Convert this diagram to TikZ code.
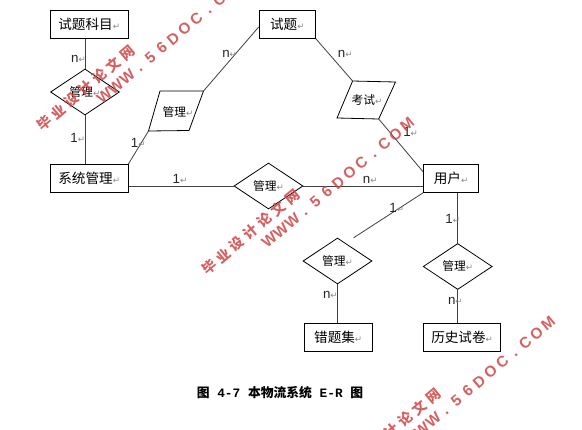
\documentclass[tikz,border=0pt]{standalone}
\usepackage{fontspec}
\usetikzlibrary{shapes.geometric}
\setmainfont{Liberation Sans}
\newfontfamily\cjk{Noto Sans CJK SC}
\newfontfamily\dejavu{DejaVu Sans}
\newfontfamily\capmono{Liberation Mono}
\definecolor{wmred}{RGB}{205,70,70}
\definecolor{retgray}{RGB}{135,135,135}
\newcommand\retmark{{\dejavu\fontsize{6.5}{8}\selectfont\color{retgray}↵}}
\newcommand\capsp{{\capmono\bfseries\ }}
\tikzset{
  ent/.style={draw=black, line width=0.75pt, minimum height=21pt, inner sep=0pt,
    font=\cjk\fontsize{10.2}{12}\selectfont},
  rel/.style={diamond, draw=black, line width=0.6pt, minimum width=51.75pt,
    minimum height=34.5pt, inner sep=0pt, font=\cjk\fontsize{8.8}{10}\selectfont},
  relline/.style={draw=black, line width=0.6pt},
  rtext/.style={inner sep=0pt, font=\cjk\fontsize{8.8}{10}\selectfont},
  conn/.style={draw=black!75, line width=0.6pt},
  card/.style={anchor=west, inner sep=0pt, font=\fontsize{10}{12}\selectfont, text=black!85},
  wmc/.style={rotate=40, inner sep=0pt, text=wmred, opacity=0.85,
    font=\cjk\bfseries\fontsize{10.5}{12}\selectfont},
  wml/.style={rotate=40, anchor=base, inner sep=0pt, text=wmred, opacity=0.85,
    font=\bfseries\fontsize{11.5}{13}\selectfont},
}
\newcommand\wmarkset[3]{%
  \begin{scope}[shift={(#1,#2)}, rotate=40]
    \foreach \c [count=\i from 0] in {毕,业,设,计,论,文,网}
      \node[wmc] (#3c\i) at (\i*18.2,0) {\c};
    \foreach \c [count=\i from 0] in {W,W,W,.,5,6,D,O,C,.,C,O,M}
      \node[wml] (#3l\i) at (63.3+\i*15,23.5) {\c};
  \end{scope}}
\begin{document}
\begin{tikzpicture}[x=0.75pt,y=-0.75pt]
\useasboundingbox (0,0) rectangle (582,429);
\fill[white] (0,0) rectangle (582,429);
\clip (0,0) rectangle (582,429);

% entities
\node[ent, minimum width=58.2pt] (km) at (89.2,24.2) {试题科目\retmark};
\node[ent, minimum width=58.2pt] (xt) at (89.2,178.3) {系统管理\retmark};
\node[ent, minimum width=42pt] (st) at (287.3,24.2) {试题\retmark};
\node[ent, minimum width=41.25pt] (yh) at (451.1,178.3) {用户\retmark};
\node[ent, minimum width=51.3pt] (ct) at (338.2,337.2) {错题集\retmark};
\node[ent, minimum width=57.9pt] (ls) at (462.1,337.2) {历史试卷\retmark};

% relationships (diamonds)
\node[rel] (d1) at (85,92) {管理\retmark};
\node[rel] (d3) at (268.5,186) {管理\retmark};
\node[rel] (d4) at (337.5,261) {管理\retmark};
\node[rel] (d5) at (457.7,266.5) {管理\retmark};

% relationships (parallelograms)
\coordinate (p1tl) at (160,91);
\coordinate (p1tr) at (203.5,91);
\coordinate (p1br) at (189,130.5);
\coordinate (p1bl) at (148.5,131);
\draw[relline] (p1tl) -- (p1tr) -- (p1br) -- (p1bl) -- cycle;
\node[rtext] (p1) at (178,112) {管理\retmark};
\coordinate (p2tl) at (352.6,81);
\coordinate (p2tr) at (395.5,82);
\coordinate (p2br) at (378.7,119);
\coordinate (p2bl) at (337,118);
\draw[relline] (p2tl) -- (p2tr) -- (p2br) -- (p2bl) -- cycle;
\node[rtext] (p2) at (367,100) {考试\retmark};

% connectors
\draw[conn] (d1.north |- km.south) -- (d1.north);
\draw[conn] (d1.south) -- (d1.south |- xt.north);
\draw[conn] ([yshift=-2pt]st.west) -- (p1tr);
\draw[conn] (p1bl) -- (xt.north east);
\draw[conn] (st.south east) -- (p2tl);
\draw[conn] (p2br) -- ([yshift=-6pt]yh.north west);
\draw[conn] (d3.west -| xt.east) -- (d3.west);
\draw[conn] (d3.east) -- (d3.east -| yh.west);
\coordinate (c4) at (353.7,237.7);
\draw[conn] (yh.south west) -- (c4);
\draw[conn] (d4.south) -- (d4.south |- ct.north);
\draw[conn] (d5.north |- yh.south) -- (d5.north);
\draw[conn] (d5.south) -- (d5.south |- ls.north);

% cardinalities
\node[card] (l1) at (70.9,59.3) {n\retmark};
\node[card] (l2) at (70.1,138.3) {1\retmark};
\node[card] (l3) at (222,54) {n\retmark};
\node[card] (l4) at (130.6,143.3) {1\retmark};
\node[card] (l5) at (337.7,54) {n\retmark};
\node[card] (l6) at (403,131.7) {1\retmark};
\node[card] (l7) at (172.4,179) {1\retmark};
\node[card] (l8) at (362.7,180) {n\retmark};
\node[card] (l9) at (389.2,208.3) {1\retmark};
\node[card] (l10) at (445.1,219.3) {1\retmark};
\node[card] (l11) at (322.8,295) {n\retmark};
\node[card] (l12) at (447.8,301) {n\retmark};

% caption
\node[inner sep=0pt, font=\cjk\bfseries\fontsize{9.6}{11}\selectfont] (cap) at (280,393)
  {图\capsp{\capmono\bfseries 4-7}\capsp 本物流系统\capsp{\capmono\bfseries E-R}\capsp 图};

% watermarks
\wmarkset{44}{123}{wa}
\wmarkset{209}{267}{wb}
\wmarkset{350}{466}{wc}
\end{tikzpicture}
\end{document}
